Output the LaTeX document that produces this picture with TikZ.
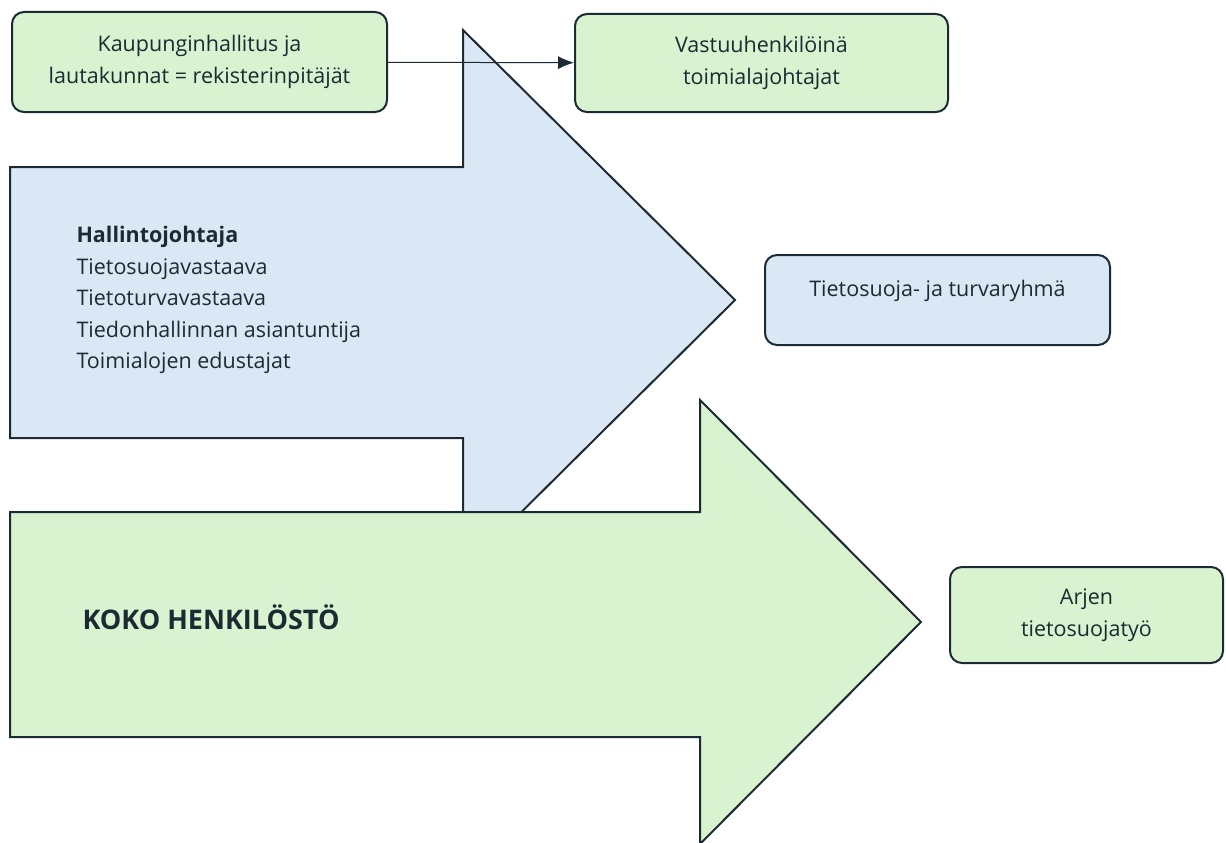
\documentclass[tikz,border=0pt]{standalone}
\usepackage{fontspec}
\setmainfont{Open Sans}
\usetikzlibrary{arrows.meta}
\definecolor{boxgreen}{HTML}{D9F2D0}
\definecolor{boxblue}{HTML}{DAE8F6}
\definecolor{edge}{HTML}{1C2B33}
\begin{document}
\begin{tikzpicture}
  [x=1pt,y=-1pt,
   every node/.style={font=\fontsize{21.5}{31.5}\selectfont,text=edge},
   roundbox/.style={draw=edge,line width=2pt,rounded corners=12pt,align=center,inner sep=0pt},
   bigarrow/.style={draw=edge,line width=2pt,line join=miter}]
  \useasboundingbox (0,0) rectangle (1226,843);

  % big arrows
  \draw[bigarrow,fill=boxblue] (10,167) -- (463,167) -- (463,30) -- (735,300) -- (463,570) -- (463,438) -- (10,438) -- cycle;
  \draw[bigarrow,fill=boxgreen] (10,512) -- (700,512) -- (700,400) -- (921,622) -- (700,844) -- (700,737) -- (10,737) -- cycle;

  \node[anchor=west,align=left] (ryhma) at (73,300)
    {\textbf{Hallintojohtaja}\\Tietosuojavastaava\\Tietoturvavastaava\\Tiedonhallinnan asiantuntija\\Toimialojen edustajat};
  \node[anchor=west,font=\fontsize{27}{32}\selectfont\bfseries] (koko) at (79,617) {KOKO HENKILÖSTÖ};

  % boxes
  \node[roundbox,fill=boxgreen,minimum width=375pt,minimum height=100pt] (kh) at (199.5,62) {Kaupunginhallitus ja\\lautakunnat = rekisterinpitäjät};
  \node[roundbox,fill=boxgreen,minimum width=373pt,minimum height=98pt] (vh) at (761.5,63) {Vastuuhenkilöinä\\toimialajohtajat};
  \node[roundbox,fill=boxblue,minimum width=345pt,minimum height=90pt] (tt) at (937.5,300) {Tietosuoja- ja turvaryhmä\\[-8pt]};
  \node[roundbox,fill=boxgreen,minimum width=273pt,minimum height=96pt] (arki) at (1086.5,615) {Arjen\\tietosuojatyö};

  \draw[-{Latex[length=16pt,width=13pt]},line width=1pt,edge] (kh) -- (vh);
\end{tikzpicture}
\end{document}
